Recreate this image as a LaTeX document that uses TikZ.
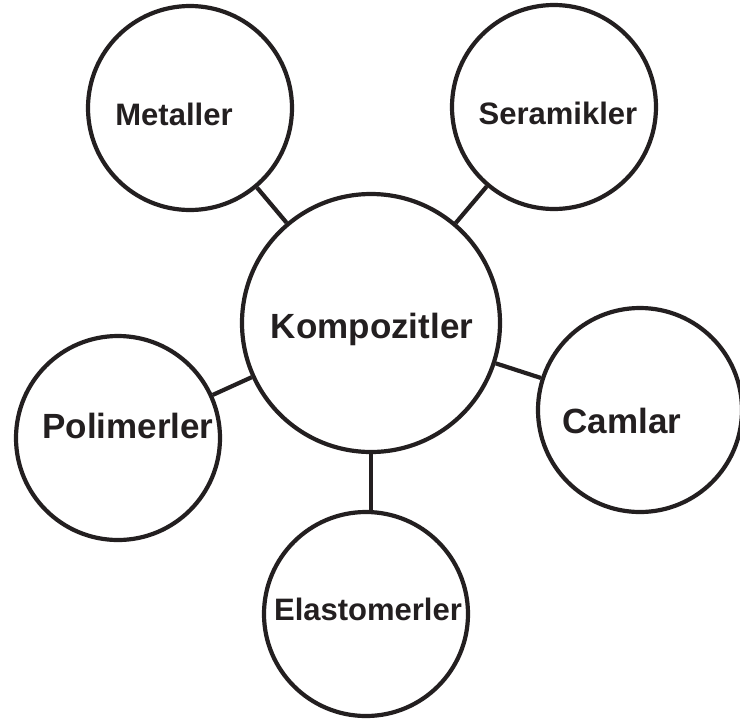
\documentclass[tikz,border=0pt]{standalone}
\usepackage{fontspec}
\setsansfont{Liberation Sans}
\usetikzlibrary{positioning}
\definecolor{ink}{HTML}{231F20}
\tikzset{%
  % Specifications for style of nodes:
            base/.style = {circle, draw=ink, line width=4.2pt, fill=white,
                           inner sep=0pt},
       small/.style = {base, minimum size=204pt},
         big/.style = {base, minimum size=258pt},
       label/.style = {text=ink, anchor=base, inner sep=0pt,
                       font=\sffamily\bfseries\fontsize{31}{31}\selectfont},
    labelbig/.style = {label, font=\sffamily\bfseries\fontsize{35}{35}\selectfont},
link/.style={
           draw=ink,
           line width=4.2pt,}
}

\begin{document}
\begin{tikzpicture}[x=1pt, y=-1pt]
\useasboundingbox (0,0) rectangle (740,724);

\node (komp)    [big]   at (371,323) {};
\node (metal)   [small] at (190,108) {};
\node (seram)   [small] at (554,107) {};
\node (polim)   [small] at (118,438) {};
\node (caml)    [small] at (640,410) {};
\node (elast)   [small] at (366,614) {};

\draw[link] (metal) -- (komp);
\draw[link] (seram) -- (komp);
\draw[link] (polim) -- (komp);
\draw[link] (caml) -- (komp);
\draw[link] (komp.south) -- (komp.south |- elast.north);

% texts
\node (kompt)   [labelbig] at (372,338) {Kompozitler};
\node (metalt)  [label]    at (174,125) {Metaller};
\node (seramt)  [label]    at (558,124) {Seramikler};
\node (polimt)  [labelbig] at (128,438) {Polimerler};
\node (camlt)   [labelbig] at (622,433) {Camlar};
\node (elastt)  [label]    at (368,620) {Elastomerler};

\end{tikzpicture}
\end{document}
